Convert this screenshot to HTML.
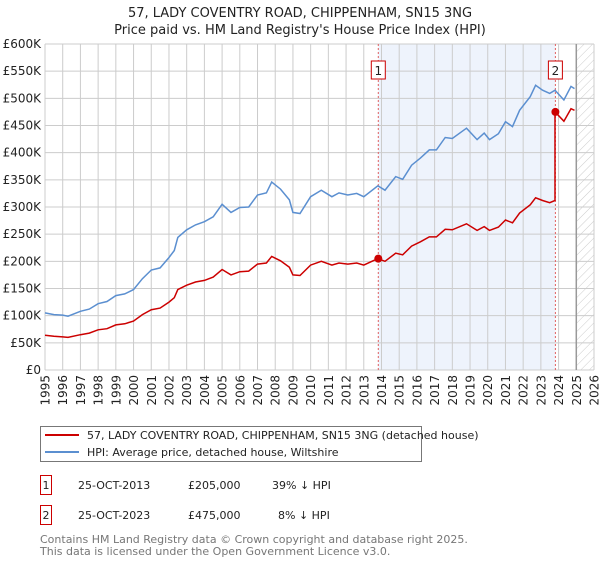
<!DOCTYPE html>
<html><head><meta charset="utf-8"><style>
body{margin:0;background:#fff;font-family:"Liberation Sans","DejaVu Sans",sans-serif;}
svg text{font-family:"DejaVu Sans","Liberation Sans",sans-serif;}
</style></head><body>
<svg id="chart" width="600" height="560" xmlns="http://www.w3.org/2000/svg">
<defs><pattern id="hatch" width="6" height="6" patternUnits="userSpaceOnUse" patternTransform="rotate(45)"><line x1="0" y1="0" x2="0" y2="6" stroke="#ccc" stroke-width="1"/></pattern></defs>
<text x="300" y="17" text-anchor="middle" font-size="13" fill="#222">57, LADY COVENTRY ROAD, CHIPPENHAM, SN15 3NG</text>
<text x="300" y="34" text-anchor="middle" font-size="13" fill="#222">Price paid vs. HM Land Registry's House Price Index (HPI)</text>
<g id="plot"></g>
<rect x="40.5" y="426.5" width="381" height="35" fill="#fff" stroke="#777"/>
<line x1="45" y1="435" x2="79" y2="435" stroke="#cc0000" stroke-width="2"/>
<text x="87" y="439" font-size="11" fill="#222">57, LADY COVENTRY ROAD, CHIPPENHAM, SN15 3NG (detached house)</text>
<line x1="45" y1="452" x2="79" y2="452" stroke="#5b8fd0" stroke-width="2"/>
<text x="87" y="456" font-size="11" fill="#222">HPI: Average price, detached house, Wiltshire</text>
<g font-size="11" fill="#222">
<rect x="40.5" y="475.5" width="11" height="19" fill="none" stroke="#cc0000"/>
<text x="46" y="489" text-anchor="middle">1</text><text x="78" y="489">25-OCT-2013</text><text x="188" y="489">£205,000</text><text x="272" y="489">39% ↓ HPI</text></g>
<g font-size="11" fill="#222">
<rect x="40.5" y="505.5" width="11" height="19" fill="none" stroke="#cc0000"/>
<text x="46" y="519" text-anchor="middle">2</text><text x="78" y="519">25-OCT-2023</text><text x="188" y="519">£475,000</text><text x="278" y="519">8% ↓ HPI</text></g>
<text x="40" y="543" font-size="11" fill="#777">Contains HM Land Registry data © Crown copyright and database right 2025.</text>
<text x="40" y="555" font-size="11" fill="#777">This data is licensed under the Open Government Licence v3.0.</text>
</svg>
<script>
const hpiYears=[1995.0,1995.5,1996.0,1996.3,1997.0,1997.5,1998.0,1998.5,1999.0,1999.5,2000.0,2000.5,2001.0,2001.5,2002.0,2002.3,2002.5,2003.0,2003.5,2004.0,2004.5,2005.0,2005.5,2006.0,2006.5,2007.0,2007.5,2007.8,2008.3,2008.8,2009.0,2009.4,2010.0,2010.6,2011.2,2011.6,2012.1,2012.6,2013.0,2013.8,2014.2,2014.8,2015.2,2015.7,2016.2,2016.7,2017.1,2017.6,2018.0,2018.8,2019.4,2019.8,2020.1,2020.6,2021.0,2021.4,2021.8,2022.4,2022.7,2023.1,2023.5,2023.8,2024.3,2024.7,2024.9];
const hpiValues=[105,102,101,99,108,112,122,126,137,140,148,168,184,188,207,220,244,258,267,273,282,305,290,299,300,322,326,346,333,313,290,288,319,331,319,326,322,325,319,339,331,356,351,377,390,405,405,428,426,445,424,436,424,435,457,448,478,503,524,515,509,515,497,522,518];
const priceYears=[1995.0,1995.5,1996.0,1996.3,1997.0,1997.5,1998.0,1998.5,1999.0,1999.5,2000.0,2000.5,2001.0,2001.5,2002.0,2002.3,2002.5,2003.0,2003.5,2004.0,2004.5,2005.0,2005.5,2006.0,2006.5,2007.0,2007.5,2007.8,2008.3,2008.8,2009.0,2009.4,2010.0,2010.6,2011.2,2011.6,2012.1,2012.6,2013.0,2013.8,2014.2,2014.8,2015.2,2015.7,2016.2,2016.7,2017.1,2017.6,2018.0,2018.8,2019.4,2019.8,2020.1,2020.6,2021.0,2021.4,2021.8,2022.4,2022.7,2023.1,2023.5,2023.8,2023.8,2024.3,2024.7,2024.9];
const priceValues=[64,62,61,60,65,68,74,76,83,85,90,102,111,114,125,133,148,156,162,165,171,185,175,181,182,195,197,209,201,189,175,174,193,200,193,197,195,197,193,205,200,215,212,228,236,245,245,259,258,269,257,264,257,263,276,271,289,304,317,312,308,312,475,458,481,478];
const saleYears=[2013.82,2023.82];
const saleValues=[205,475];
const saleLabels=["1","2"];
const yTicks=[0,50,100,150,200,250,300,350,400,450,500,550,600];
const yTickLabels=["£0","£50K","£100K","£150K","£200K","£250K","£300K","£350K","£400K","£450K","£500K","£550K","£600K"];
const xTicks=[1995,1996,1997,1998,1999,2000,2001,2002,2003,2004,2005,2006,2007,2008,2009,2010,2011,2012,2013,2014,2015,2016,2017,2018,2019,2020,2021,2022,2023,2024,2025,2026];

const X0=45,X1=594,Y0=370,Y1=44;
const xs=y=>X0+(y-1995)/(2026-1995)*(X1-X0);
const ys=v=>Y0-v/600*(Y0-Y1);
const NS="http://www.w3.org/2000/svg";
const g=document.getElementById('plot');
function mk(t,a){const e=document.createElementNS(NS,t);for(const k in a)e.setAttribute(k,a[k]);g.appendChild(e);return e;}

const sh=mk('rect',{x:xs(saleYears[0]),y:Y1,width:xs(saleYears[1])-xs(saleYears[0]),height:Y0-Y1,fill:'#eef3fc'});


const ht=mk('rect',{x:xs(2025),y:Y1,width:xs(2026)-xs(2025),height:Y0-Y1,fill:'url(#hatch)'});



yTicks.forEach((v,i)=>{
 const l=mk('line',{x1:X0,x2:X1,y1:ys(v),y2:ys(v),stroke:'#cccccc','stroke-width':1});
 
 
 const t=mk('text',{x:X0-4,y:ys(v)+4,'text-anchor':'end','font-size':12,fill:'#222'});
 t.textContent=yTickLabels[i];
 
 
});
xTicks.forEach(yr=>{
 const l=mk('line',{x1:xs(yr),x2:xs(yr),y1:Y1,y2:Y0,stroke:'#cccccc','stroke-width':1});
 
 
 const tx=xs(yr)+4.5, ty=375;
 const t=mk('text',{x:tx,y:ty,'text-anchor':'end','font-size':12,fill:'#222',transform:`rotate(-90 ${tx} ${ty})`});
 t.textContent=yr;
 
 
});
const ed=mk('line',{x1:xs(2025),x2:xs(2025),y1:Y1,y2:Y0,stroke:'#999','stroke-width':1.5});



saleYears.forEach((yr,i)=>{
 const l=mk('line',{x1:xs(yr),x2:xs(yr),y1:Y1,y2:Y0,stroke:'#e06060','stroke-width':1,'stroke-dasharray':'2,2'});
 
 
 const b=mk('rect',{x:xs(yr)-7,y:61,width:14,height:18,fill:'#fff',stroke:'#cc0000','stroke-width':1});
 
 
 const t=mk('text',{x:xs(yr),y:75,'text-anchor':'middle','font-size':12,fill:'#222'});
 t.textContent=saleLabels[i];
 
 
});

const hp=mk('path',{d:hpiYears.map((y,i)=>(i?'L':'M')+xs(y).toFixed(1)+','+ys(hpiValues[i]).toFixed(1)).join(''),fill:'none',stroke:'#5b8fd0','stroke-width':1.5});


const pp=mk('path',{d:priceYears.map((y,i)=>(i?'L':'M')+xs(y).toFixed(1)+','+ys(priceValues[i]).toFixed(1)).join(''),fill:'none',stroke:'#cc0000','stroke-width':1.5});


saleYears.forEach((yr,i)=>{
 const c=mk('circle',{cx:xs(yr),cy:ys(saleValues[i]),r:4,fill:'#cc0000'});
 
 
});
</script>
</body></html>
